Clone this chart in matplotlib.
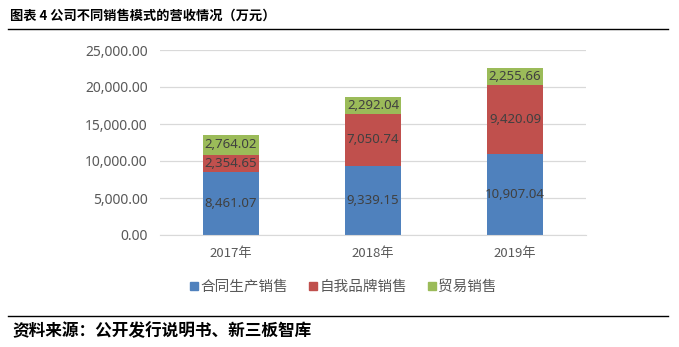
import matplotlib.pyplot as plt
from matplotlib.lines import Line2D
import numpy as np

plt.rcParams['font.family'] = ['Noto Sans CJK SC', 'DejaVu Sans']

years = ["2017年", "2018年", "2019年"]
contract = [8461.07, 9339.15, 10907.04]
own_brand = [2354.65, 7050.74, 9420.09]
trade = [2764.02, 2292.04, 2255.66]
series_names = ["合同生产销售", "自我品牌销售", "贸易销售"]
colors = ["#4F81BD", "#C0504D", "#9BBB59"]

fig = plt.figure(figsize=(6.79, 3.47), dpi=100)
ax = fig.add_axes([160 / 679, 1 - 235 / 347, 426 / 679, 185 / 347])

x = np.arange(len(years))
bottom = np.zeros(len(years))
for vals, c in zip([contract, own_brand, trade], colors):
    ax.bar(x, vals, 0.4, bottom=bottom, color=c, zorder=2)
    for xi, b, v in zip(x, bottom, vals):
        ax.text(xi, b + v / 2, f"{v:,.2f}", ha="center", va="center",
                fontsize=9.5, color="#404040", family="Noto Sans", zorder=3)
    bottom += np.array(vals)

ax.set_xlim(-0.5, 2.5)
ax.set_ylim(0, 25000)
ax.set_yticks(np.arange(0, 25001, 5000))
ax.set_yticklabels([f"{v:,.2f}" for v in np.arange(0, 25001, 5000)],
                   fontsize=10, color="#595959", family="Noto Sans")
ax.set_xticks(x)
ax.set_xticklabels(years, fontsize=9.5, color="#595959")
ax.tick_params(length=0, pad=9)
ax.grid(axis="y", color="#D9D9D9", linewidth=0.9, zorder=0)
for s in ["top", "right", "left"]:
    ax.spines[s].set_visible(False)
ax.spines["bottom"].set_color("#D9D9D9")

handles = [Line2D([], [], marker="s", linestyle="", color=c, markersize=6) for c in colors]
fig.legend(handles, series_names, loc="center", bbox_to_anchor=(343 / 679, 1 - 287 / 347),
           ncol=3, frameon=False, fontsize=10.5, handlelength=0.6, handletextpad=0.15,
           columnspacing=1.4, labelcolor="#595959")

fig.text(10 / 679, 1 - 16 / 347, "图表 4 公司不同销售模式的营收情况（万元）",
         fontsize=9.5, fontweight="bold", va="center", ha="left")
fig.add_artist(Line2D([8 / 679, 668 / 679], [1 - 29 / 347] * 2, color="black", linewidth=1))
fig.add_artist(Line2D([8 / 679, 668 / 679], [1 - 316 / 347] * 2, color="black", linewidth=1))
fig.text(12 / 679, 1 - 331 / 347, "资料来源：公开发行说明书、新三板智库",
         fontsize=12, fontweight="bold", va="center", ha="left")

fig.savefig("out.png", dpi=100)
